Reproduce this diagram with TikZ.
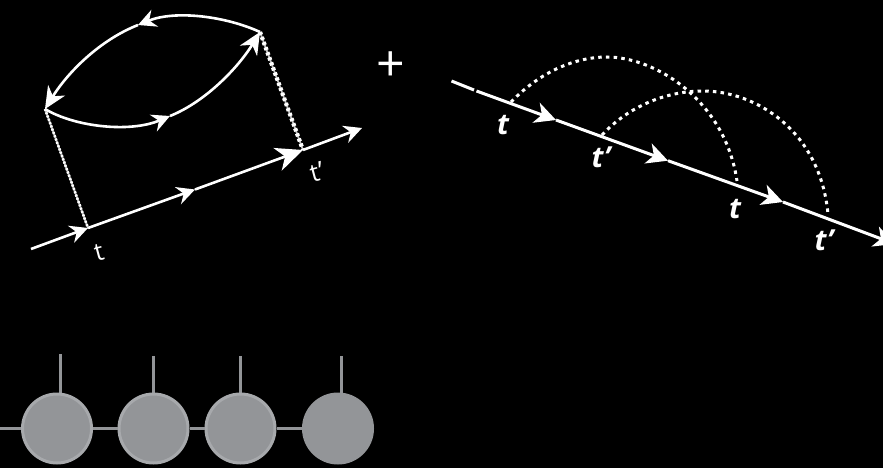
\documentclass[tikz,border=0pt]{standalone}
\usepackage{fontspec}
\setmainfont{Open Sans}
\usetikzlibrary{arrows.meta}
\definecolor{ballfill}{HTML}{939598}
\definecolor{ballrim}{HTML}{A7A9AC}
\tikzset{
  wire/.style={white,line width=2.6pt,line cap=butt},
  arrowwire/.style={wire,-{Stealth[length=18pt,width=18pt,inset=6pt]}},
  rightarrow/.style={wire,line width=3pt,-{Stealth[length=21pt,width=21pt,inset=6pt]}},
  midarrow/.style={wire,-{Stealth[length=22pt,width=20pt,inset=7pt]}},
  bigarrow/.style={wire,-{Stealth[length=27pt,width=24pt,inset=8pt]}},
  dotarc/.style={white,line width=3pt,dash pattern=on 3.5pt off 4.2pt},
  thinrail/.style={white!75!black,line width=1.8pt},
  thindots/.style={white,line width=2.6pt,dash pattern=on 2pt off 1.5pt},
  thickdots/.style={white,line width=4.2pt,dash pattern=on 3pt off 2.4pt},
  lbl/.style={white,font=\fontsize{25}{27}\selectfont,inner sep=0pt,rotate=15},
  ilbl/.style={white,font=\fontsize{29}{31}\selectfont\bfseries\itshape,inner sep=0pt},
  ball/.style={circle,fill=ballfill,draw=ballrim,line width=3pt,minimum size=69pt,inner sep=0pt},
  plainball/.style={circle,fill=ballfill,draw=ballfill,line width=3pt,minimum size=69pt,inner sep=0pt},
  stem/.style={ballfill,line width=3pt},
}
\begin{document}
\begin{tikzpicture}[x=1pt,y=-1pt]
\useasboundingbox (0,0) rectangle (883,468);
\clip (0,0) rectangle (883,468);
\fill[black] (0,0) rectangle (883,468);
% left diagram coordinates
\coordinate (s) at (31,249);
\coordinate (c) at (88,228);
\coordinate (m) at (195,189.5);
\coordinate (d) at (303,150);
\coordinate (e) at (362,128);
\coordinate (a) at (45,109);
\coordinate (b) at (260,32);
\coordinate (u) at (138,25);
\coordinate (l) at (170,116);
% dashed links
\draw[thinrail] (a) -- (c);
\draw[thindots] (a) -- (c);
\draw[thinrail] (b) -- (d);
\draw[thickdots] (b) -- (d);
% baseline
\draw[arrowwire] (s) -- (c);
\draw[arrowwire] (c) -- (m);
\draw[bigarrow] (m) -- (d);
\draw[arrowwire] (d) -- (e);
% loop
\draw[arrowwire] (b) .. controls (225,16) and (175,10) .. (u);
\draw[midarrow] (u) .. controls (100,40) and (68,72) .. (a);
\draw[arrowwire] (a) .. controls (75,127) and (130,133) .. (l);
\draw[midarrow] (l) .. controls (205,102) and (238,68) .. (b);
\node[lbl] (tl) at (99,253) {t};
\node[lbl] (tlp) at (317,172) {t'};
\node[white,font=\fontsize{50}{52}\selectfont,inner sep=0pt] (plus) at (390.5,67) {+};
% right diagram coordinates
\coordinate (r0) at (451.5,81);
\coordinate (r1) at (474,90);
\coordinate (r2) at (476.5,91);
\coordinate (r3) at (556,120);
\coordinate (r4) at (668,160.7);
\coordinate (r5) at (783,202);
\coordinate (r6) at (895,244);
\coordinate (p1) at (511,102);
\coordinate (p2) at (607,57);
\coordinate (p3) at (737,181);
\coordinate (q1) at (602,135);
\coordinate (q2) at (703,91);
\coordinate (q3) at (828,214);
\draw[dotarc] (p1) .. controls (540,72) and (575,57) .. (p2) .. controls (655,57) and (725,100) .. (p3);
\draw[dotarc] (q1) .. controls (630,105) and (668,91) .. (q2) .. controls (755,91) and (820,130) .. (q3);
\draw[wire,line width=3pt] (r0) -- (r1);
\draw[rightarrow] (r2) -- (r3);
\draw[rightarrow] (r3) -- (r4);
\draw[rightarrow] (r4) -- (r5);
\draw[rightarrow] (r5) -- (r6);
\node[ilbl] (t1) at (503,125) {t};
\node[ilbl] (t2) at (601,157) {t'};
\node[ilbl] (t3) at (735,209) {t};
\node[ilbl] (t4) at (824,240) {t'};
% bottom chain
\coordinate (w) at (0,428.5);
\coordinate (v1) at (60.5,354);
\coordinate (v2) at (153.5,356);
\coordinate (v3) at (240.5,356);
\coordinate (v4) at (341,356);
\coordinate (f1) at (60.5,400);
\coordinate (f2) at (153.5,400);
\coordinate (f3) at (240.5,400);
\coordinate (f4) at (341,400);
\draw[stem] (v1) -- (f1);
\draw[stem] (v2) -- (f2);
\draw[stem] (v3) -- (f3);
\draw[stem] (v4) -- (f4);
\node[ball] (n1) at (57,428.5) {};
\node[ball] (n2) at (153.5,428.5) {};
\node[ball] (n3) at (240.5,428.5) {};
\node[plainball] (n4) at (338,428.5) {};
\draw[stem] (w) -- (n1);
\draw[stem] (n1) -- (n2);
\draw[stem] (n2) -- (n3);
\draw[stem] (n3) -- (n4);
\end{tikzpicture}
\end{document}
